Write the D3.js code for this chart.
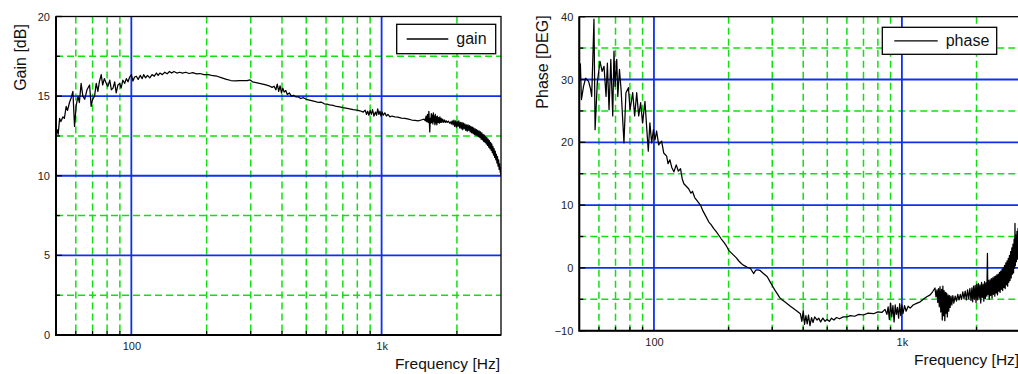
<!DOCTYPE html>
<html>
<head>
<meta charset="utf-8">
<script src="https://cdn.jsdelivr.net/npm/d3@7"></script>
<style>
  body { margin: 0; background: #fff; }
  svg { display: block; font-family: "Liberation Sans", Arial, Helvetica, sans-serif; }
</style>
</head>
<body>
<svg id="chart" width="1018" height="374"></svg>
<script>
// axis ticks
const freqDomain = [50, 3000];
const majorFreqs = [100, 1000];
const freqLabels = ["100", "1k"];
const minorFreqs = [60, 70, 80, 90, 200, 300, 400, 500, 600, 700, 800, 900, 2000];
const gainTicks = [0, 5, 10, 15, 20];
const gainMinor = [2.5, 7.5, 12.5, 17.5];
const phaseTicks = [-10, 0, 10, 20, 30, 40];
const phaseMinor = [-5, 5, 15, 25, 35];

// measured gain [Hz, dB]
const gainData = [
  [50, 12.5], [50.5, 12.9], [51, 12.6], [51.7, 13.6], [52.3, 13.4], [53.3, 13.7], [54, 13.6],
  [54.9, 14.35], [55.6, 14.1], [56.6, 14.6], [57.5, 14.9], [58.4, 15.3], [59.3, 13.1], [60.2, 14.4],
  [61.2, 15.0], [62, 14.6], [63, 15.8], [64, 15.0], [65.1, 14.8], [66.5, 15.4], [68.1, 15.7],
  [69.1, 14.35], [70, 14.8], [71.3, 15.0], [72.4, 15.8], [73.5, 15.3], [74.5, 15.9], [75.8, 16.35],
  [76.8, 15.7], [78, 16.1], [79.4, 15.8], [80.5, 15.6], [82, 16.0], [83.2, 15.4], [84.5, 15.5],
  [85.8, 15.9], [87, 15.2], [88.4, 15.7], [89.9, 15.8], [91, 15.5], [92.5, 16.0], [94.1, 15.8],
  [95.5, 16.1], [97, 15.9], [98.5, 16.2], [100, 16.35], [101.5, 15.95], [103, 16.2], [104.7, 16.25],
  [106.5, 16.05], [108.5, 16.3], [110.5, 16.1], [112, 16.35], [114, 16.15], [116, 16.3], [118.5, 16.15],
  [121, 16.35], [123.5, 16.25], [126, 16.45], [128, 16.3], [130, 16.45], [133, 16.35], [136, 16.5],
  [139, 16.4], [142, 16.55], [145, 16.45], [148, 16.55], [152, 16.45], [156, 16.5], [160, 16.45],
  [165, 16.5], [170, 16.42], [176, 16.47], [182, 16.4], [188, 16.42], [195, 16.35], [203, 16.35],
  [212, 16.28], [220, 16.25], [230, 16.15], [240, 16.05], [250, 15.98], [260, 15.95], [270, 15.97],
  [280, 15.97], [290, 15.97], [298, 16.02], [305, 15.9], [315, 15.85], [325, 15.8], [335, 15.75],
  [345, 15.7], [355, 15.65], [365, 15.55], [372, 15.62], [378, 15.4], [383, 15.75], [388, 15.3],
  [393, 15.65], [398, 15.2], [403, 15.5], [408, 15.25], [414, 15.35], [420, 15.1], [428, 15.2],
  [436, 15.0], [445, 15.05], [455, 14.95], [465, 14.95], [475, 14.85], [487, 14.9], [500, 14.8],
  [515, 14.75], [530, 14.7], [545, 14.65], [560, 14.6], [575, 14.62], [590, 14.52], [605, 14.5],
  [620, 14.45], [640, 14.42], [660, 14.35], [680, 14.32], [700, 14.28], [720, 14.25], [745, 14.2],
  [770, 14.15], [795, 14.12], [820, 14.08], [845, 14.0], [860, 14.12], [870, 13.85], [880, 14.05],
  [890, 13.8], [900, 14.1], [910, 13.85], [920, 14.15], [932, 13.75], [945, 14.0], [955, 13.8],
  [965, 14.2], [975, 13.85], [985, 14.05], [995, 13.75], [1005, 14.0], [1015, 13.8], [1030, 13.95],
  [1045, 13.75], [1060, 13.85], [1080, 13.7], [1100, 13.75], [1130, 13.7], [1160, 13.68], [1200, 13.62],
  [1240, 13.6], [1280, 13.55], [1320, 13.5], [1360, 13.48], [1400, 13.45], [1440, 13.5], [1480, 13.55],
  [1495, 13.45], [1505, 13.75], [1515, 13.4], [1525, 13.85], [1535, 13.35], [1545, 14.05], [1552, 13.3],
  [1558, 12.75], [1565, 13.6], [1572, 13.3], [1580, 13.9], [1588, 13.35], [1595, 13.8], [1603, 13.25],
  [1610, 13.95], [1618, 13.4], [1625, 13.75], [1633, 13.2], [1640, 13.85], [1648, 13.3], [1655, 13.7],
  [1663, 13.2], [1670, 13.75], [1680, 13.35], [1690, 13.65], [1700, 13.3], [1710, 13.7], [1720, 13.35],
  [1730, 13.6], [1742, 13.35], [1755, 13.55], [1770, 13.35], [1785, 13.5], [1800, 13.35], [1815, 13.45],
  [1830, 13.35], [1850, 13.42], [1870, 13.3], [1890, 13.38], [1900, 13.25], [1915, 13.45], [1930, 13.2],
  [1945, 13.5], [1960, 13.1], [1975, 13.45], [1990, 13.05], [2005, 13.4], [2020, 13.1], [2035, 13.45],
  [2050, 13.0], [2065, 13.35], [2080, 12.95], [2095, 13.35], [2110, 12.9], [2125, 13.3], [2140, 12.95],
  [2155, 13.25], [2170, 12.85], [2185, 13.2], [2200, 12.8], [2215, 13.2], [2230, 12.85], [2245, 13.15],
  [2260, 12.75], [2275, 13.1], [2290, 12.7], [2305, 13.05], [2320, 12.65], [2335, 13.0], [2350, 12.6],
  [2365, 12.95], [2380, 12.55], [2395, 12.9], [2410, 12.5], [2425, 12.85], [2440, 12.45], [2455, 12.8],
  [2470, 12.4], [2485, 12.75], [2500, 12.3], [2515, 12.7], [2530, 12.25], [2545, 12.6], [2560, 12.15],
  [2575, 12.55], [2590, 12.1], [2605, 12.45], [2620, 12.0], [2635, 12.4], [2650, 11.9], [2665, 12.3],
  [2680, 11.8], [2695, 12.2], [2710, 11.7], [2725, 12.1], [2740, 11.6], [2755, 12.0], [2770, 11.45],
  [2785, 11.85], [2800, 11.3], [2815, 11.7], [2830, 11.15], [2845, 11.55], [2860, 11.0], [2875, 11.35],
  [2890, 10.8], [2905, 11.2], [2920, 10.6], [2935, 11.0], [2950, 10.4], [2965, 10.75], [2980, 10.2],
  [2990, 10.5], [3000, 10.0]
];

// measured phase [Hz, deg]
const phaseData = [
  [50, 29.5], [50.5, 32.5], [51, 26.8], [52, 28.9], [53, 30.2], [54.5, 29.7], [55.5, 28.5],
  [56.1, 27.3], [57.3, 39.6], [57.9, 22.0], [59.1, 29.5], [60.6, 32.9], [61.8, 31.3], [62.9, 32.1],
  [64.1, 27.3], [64.9, 32.6], [65.9, 25.2], [67, 33.2], [68.2, 24.2], [69.0, 34.5], [69.7, 28.9],
  [70.8, 33.2], [71.5, 27.3], [72.6, 31.6], [73.7, 28.4], [75.7, 19.9], [77.1, 27.9], [78.9, 28.7],
  [80.1, 25.2], [82.1, 27.9], [83.6, 24.2], [85.2, 27.9], [86.8, 24.2], [88.4, 26.3], [90, 23.1],
  [92, 26.5], [93.4, 22.6], [94.9, 18.6], [96.3, 23.1], [97.9, 19.9], [99.5, 22.0], [101, 20.4],
  [102.5, 21.8], [104.5, 19.6], [107.4, 20.2], [109.5, 18.3], [112.5, 17.8], [114, 16.6], [116, 17.2],
  [118, 16.0], [120.4, 15.3], [123, 16.4], [125.5, 15.4], [128, 15.8], [130, 14.2], [132, 13.4],
  [135, 13.0], [138, 12.6], [141, 11.9], [143, 12.2], [146, 11.2], [150, 10.6], [154, 10.0],
  [158, 9.0], [162, 8.2], [166.5, 7.3], [170, 6.9], [174, 6.3], [178, 5.8], [182.6, 5.2],
  [187, 4.6], [191.3, 4.1], [196, 3.5], [200.3, 2.8], [205, 2.4], [210, 2.0], [215, 1.6],
  [220, 1.1], [225, 0.7], [230.4, 0.4], [238, 0.1], [245, -0.1], [252.7, -0.9], [257, -0.4],
  [260.8, -0.3], [268, -0.4], [275, -0.8], [286.4, -1.4], [293, -2.1], [300, -2.8], [307, -3.5],
  [314.2, -4.1], [321, -4.7], [329, -5.1], [337, -5.4], [344.8, -5.7], [355, -6.1], [366.7, -6.5],
  [378, -6.9], [389.5, -7.3], [395, -8.5], [400, -6.8], [405, -9.0], [410, -7.6], [415, -8.9],
  [420, -7.5], [426, -9.2], [432, -7.9], [438, -8.7], [445, -7.8], [455, -8.3], [462, -8.0],
  [470, -8.6], [480, -8.0], [490, -8.5], [499, -8.2], [510, -8.5], [520, -8.0], [532, -8.3],
  [545, -7.9], [560, -8.1], [580, -7.8], [600, -7.8], [620, -7.6], [645, -7.7], [670, -7.4],
  [700, -7.5], [730, -7.2], [769, -7.3], [800, -7.0], [830, -7.1], [855, -6.6], [870, -7.4],
  [880, -6.2], [890, -8.2], [900, -5.6], [910, -7.8], [920, -6.0], [930, -8.6], [940, -5.9],
  [950, -7.4], [960, -6.3], [970, -8.0], [980, -5.7], [990, -7.6], [1000, -5.9], [1010, -7.3],
  [1025, -6.0], [1040, -6.9], [1060, -6.1], [1080, -6.4], [1110, -5.9], [1140, -5.7], [1185, -5.4],
  [1220, -5.0], [1260, -4.6], [1300, -4.3], [1330, -3.8], [1360, -3.2], [1372, -4.6], [1385, -3.5],
  [1395, -5.5], [1405, -3.3], [1415, -6.2], [1425, -3.0], [1435, -7.0], [1445, -3.4], [1455, -8.3],
  [1463, -2.9], [1472, -7.6], [1480, -3.6], [1490, -8.4], [1498, -3.9], [1507, -7.2], [1515, -4.0],
  [1525, -7.8], [1535, -4.3], [1545, -6.9], [1555, -4.4], [1565, -6.3], [1578, -4.5], [1590, -5.9],
  [1605, -4.4], [1620, -5.6], [1640, -4.5], [1660, -5.3], [1680, -4.2], [1700, -5.1], [1720, -4.2],
  [1740, -5.0], [1760, -3.8], [1780, -4.9], [1800, -3.7], [1820, -5.1], [1840, -3.5], [1860, -4.9],
  [1880, -3.3], [1900, -5.2], [1915, -3.2], [1930, -5.4], [1945, -2.9], [1960, -5.0], [1975, -2.8],
  [1990, -5.5], [2005, -2.6], [2020, -5.1], [2035, -2.5], [2050, -4.8], [2065, -2.7], [2080, -5.6],
  [2095, -2.3], [2110, -4.7], [2125, -2.6], [2140, -5.3], [2155, -2.2], [2170, -4.9], [2185, -2.4],
  [2200, -4.5], [2213, 2.3], [2222, -4.2], [2235, -2.0], [2250, -5.0], [2265, -1.9], [2280, -4.4],
  [2295, -1.7], [2310, -4.8], [2325, -1.6], [2340, -4.2], [2355, -1.4], [2370, -4.5], [2385, -1.3],
  [2400, -4.0], [2415, -1.1], [2430, -4.3], [2445, -1.0], [2460, -3.7], [2475, -0.7], [2490, -3.9],
  [2505, -0.5], [2520, -3.4], [2535, -0.2], [2550, -3.6], [2565, 0.1], [2580, -3.1], [2595, 0.4],
  [2610, -3.3], [2625, 0.8], [2640, -2.7], [2655, 1.1], [2670, -2.9], [2685, 1.5], [2700, -2.3],
  [2715, 2.0], [2730, -2.0], [2745, 2.6], [2760, -1.6], [2775, 3.2], [2790, -1.0], [2805, 3.8],
  [2820, -0.8], [2835, 4.6], [2850, 0.0], [2858, 7.1], [2868, 0.4], [2880, 5.2], [2895, 1.0],
  [2910, 5.8], [2925, 1.4], [2940, 6.3], [2955, 2.0], [2970, 6.6], [2985, 2.5], [3000, 5.0]
];

const GREEN = "#10e010";
const BLUE = "#1030f0";

const svg = d3.select("#chart");

function drawPanel(opt) {
  const { box, yDomain, yTicks, yMinor, data, yLabel, yLabelPos, legend } = opt;

  const x = d3.scaleLog().domain(freqDomain).range([box.left, box.right]);
  const y = d3.scaleLinear().domain(yDomain).range([box.bottom, box.top]);
  const g = svg.append("g");

  // dashed minor grid
  g.selectAll("line.vmin")
    .data(minorFreqs)
    .join("line")
    .attr("x1", d => x(d)).attr("x2", d => x(d))
    .attr("y1", box.top).attr("y2", box.bottom)
    .attr("stroke", GREEN).attr("stroke-width", 1.5)
    .attr("stroke-dasharray", "7,4");

  g.selectAll("line.hmin")
    .data(yMinor)
    .join("line")
    .attr("x1", box.left).attr("x2", box.right)
    .attr("y1", d => y(d)).attr("y2", d => y(d))
    .attr("stroke", GREEN).attr("stroke-width", 1.5)
    .attr("stroke-dasharray", "7,4");

  // solid major grid
  g.selectAll("line.vmaj")
    .data(majorFreqs)
    .join("line")
    .attr("x1", d => x(d)).attr("x2", d => x(d))
    .attr("y1", box.top).attr("y2", box.bottom)
    .attr("stroke", BLUE).attr("stroke-width", 1.8);

  g.selectAll("line.hmaj")
    .data(yTicks.filter(v => v > yDomain[0] && v < yDomain[1]))
    .join("line")
    .attr("x1", box.left).attr("x2", box.right)
    .attr("y1", d => y(d)).attr("y2", d => y(d))
    .attr("stroke", BLUE).attr("stroke-width", 1.8);

  // small inward ticks
  g.selectAll("line.xt")
    .data(minorFreqs)
    .join("line")
    .attr("x1", d => x(d)).attr("x2", d => x(d))
    .attr("y1", box.bottom).attr("y2", box.bottom - 4)
    .attr("stroke", "#000").attr("stroke-width", 1.3);

  g.selectAll("line.yt")
    .data(yMinor.concat(yTicks))
    .join("line")
    .attr("x1", box.left).attr("x2", d => box.left + (yMinor.includes(d) ? 4 : 6))
    .attr("y1", d => y(d)).attr("y2", d => y(d))
    .attr("stroke", "#000").attr("stroke-width", 1.3);

  // curve
  const clipId = "clip-" + yLabel.replace(/\W/g, "");
  svg.append("clipPath").attr("id", clipId)
    .append("rect")
    .attr("x", box.left).attr("y", box.top)
    .attr("width", box.right - box.left).attr("height", box.bottom - box.top);

  const line = d3.line().x(d => x(d[0])).y(d => y(d[1]));
  g.append("path")
    .datum(data)
    .attr("clip-path", `url(#${clipId})`)
    .attr("d", line)
    .attr("fill", "none")
    .attr("stroke", "#000")
    .attr("stroke-width", 1.25)
    .attr("stroke-linejoin", "round");

  // frame
  g.append("rect")
    .attr("x", box.left).attr("y", box.top)
    .attr("width", box.right - box.left).attr("height", box.bottom - box.top)
    .attr("fill", "none").attr("stroke", "#000").attr("stroke-width", 1.3);
  g.append("path")
    .attr("d", `M${box.left},${box.top}V${box.bottom}H${box.right}`)
    .attr("fill", "none").attr("stroke", "#000").attr("stroke-width", 2);

  // tick labels
  const yAxis = g.append("g")
    .attr("transform", `translate(${box.left},0)`)
    .call(d3.axisLeft(y).tickValues(yTicks).tickSize(0).tickPadding(6));
  const xAxis = g.append("g")
    .attr("transform", `translate(0,${box.bottom})`)
    .call(d3.axisBottom(x).tickValues(majorFreqs)
      .tickFormat((d, i) => freqLabels[i]).tickSize(0).tickPadding(7.5));
  [yAxis, xAxis].forEach(a => {
    a.select(".domain").remove();
    a.selectAll("text")
      .attr("font-family", "'Liberation Sans', Arial, sans-serif")
      .attr("font-size", 11)
      .attr("fill", "#222");
  });

  // axis titles
  g.append("text")
    .attr("x", box.right - 1)
    .attr("y", box.bottom + 34)
    .attr("text-anchor", "end")
    .attr("font-size", 15.5)
    .attr("fill", "#111")
    .text("Frequency [Hz]");

  g.append("text")
    .attr("transform", `translate(${yLabelPos[0]},${yLabelPos[1]}) rotate(-90)`)
    .attr("text-anchor", "middle")
    .attr("font-size", 16)
    .attr("fill", "#111")
    .text(yLabel);

  // legend
  const lg = g.append("g").attr("transform", `translate(${legend.x},${legend.y})`);
  lg.append("rect")
    .attr("width", legend.w).attr("height", legend.h)
    .attr("fill", "#fff").attr("stroke", "#000").attr("stroke-width", 1.3);
  lg.append("line")
    .attr("x1", legend.l0).attr("x2", legend.l1)
    .attr("y1", legend.h / 2).attr("y2", legend.h / 2)
    .attr("stroke", "#000").attr("stroke-width", 1.3);
  lg.append("text")
    .attr("x", legend.l1 + 8)
    .attr("y", legend.h / 2 + 5)
    .attr("font-size", 16)
    .attr("fill", "#111")
    .text(legend.label);
}

drawPanel({
  box: { left: 56, right: 501, top: 16.5, bottom: 335 },
  yDomain: [0, 20],
  yTicks: gainTicks,
  yMinor: gainMinor,
  data: gainData,
  yLabel: "Gain [dB]",
  yLabelPos: [25.5, 57.5],
  legend: { x: 396.7, y: 24.3, w: 99, h: 29.4, l0: 10, l1: 51.6, label: "gain" }
});

drawPanel({
  box: { left: 579.3, right: 1020.2, top: 16.7, bottom: 330.7 },
  yDomain: [-10, 40],
  yTicks: phaseTicks,
  yMinor: phaseMinor,
  data: phaseData,
  yLabel: "Phase [DEG]",
  yLabelPos: [548.3, 62],
  legend: { x: 882.3, y: 27.3, w: 114.4, h: 27, l0: 12, l1: 55.4, label: "phase" }
});
</script>
</body>
</html>
